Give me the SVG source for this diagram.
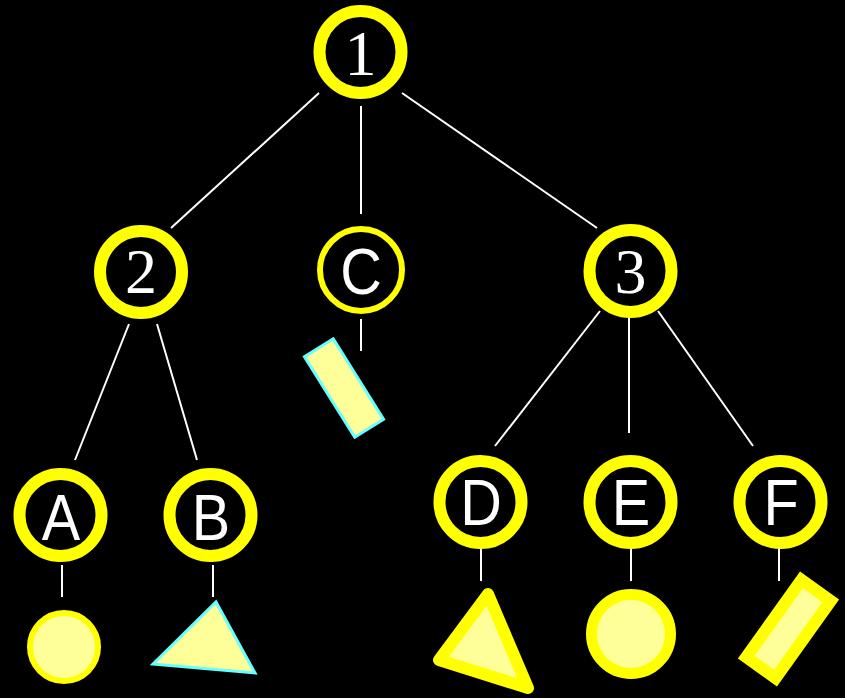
<svg xmlns="http://www.w3.org/2000/svg" width="845" height="698" viewBox="0 0 845 698">
<style>
.bg{fill:#000000}
.ring{fill:#000000;stroke:#FFFF00;stroke-width:12}
.thin{fill:#000000;stroke:#FFFF00;stroke-width:6}
.num{font-family:"Liberation Serif","Times New Roman",serif;font-size:64px;fill:#FFFFFF;text-anchor:middle}
.let{font-family:"Liberation Sans",Arial,sans-serif;font-size:64px;fill:#FFFFFF;text-anchor:middle}
.edge{stroke:#FFFFFF;stroke-width:2;fill:none}
.leafy{fill:#FFFF99;stroke:#FFFF00}
.leafc{fill:#FFFF99;stroke:#66FFFF;stroke-width:3}
</style>
<rect class="bg" x="0" y="0" width="845" height="698"/>
<g id="connectors">
<line class="edge" x1="319" y1="93" x2="171" y2="228"/>
<line class="edge" x1="361" y1="106" x2="361" y2="214"/>
<line class="edge" x1="402" y1="93" x2="597" y2="228"/>
<line class="edge" x1="129" y1="324" x2="75" y2="460"/>
<line class="edge" x1="157" y1="324" x2="197" y2="460"/>
<line class="edge" x1="600" y1="311" x2="495" y2="446"/>
<line class="edge" x1="629" y1="316" x2="629" y2="433"/>
<line class="edge" x1="658" y1="311" x2="753" y2="446"/>
<line class="edge" x1="62" y1="565" x2="62" y2="597"/>
<line class="edge" x1="213" y1="565" x2="213" y2="597"/>
<line class="edge" x1="361" y1="319" x2="361" y2="351"/>
<line class="edge" x1="481" y1="548" x2="481" y2="581"/>
<line class="edge" x1="631" y1="548" x2="631" y2="581"/>
<line class="edge" x1="779" y1="548" x2="779" y2="581"/>
</g>
<g id="n1"><circle class="ring" cx="360.5" cy="52" r="41"/><text class="num" x="360.5" y="75">1</text></g>
<g id="n2"><circle class="ring" cx="141" cy="272" r="41"/><text class="num" x="141" y="293">2</text></g>
<g id="nC"><circle class="thin" cx="361" cy="270" r="41"/><text class="let" transform="translate(361,294) scale(0.9,1)">C</text></g>
<g id="n3"><circle class="ring" cx="630.5" cy="271" r="41"/><text class="num" x="630.5" y="293">3</text></g>
<g id="nA"><circle class="ring" cx="60.5" cy="515" r="41"/><text class="let" transform="translate(61,540) scale(0.9,1)">A</text></g>
<g id="nB"><circle class="ring" cx="210.5" cy="515" r="41"/><text class="let" transform="translate(211,540) scale(0.9,1)">B</text></g>
<g id="nD"><circle class="ring" cx="480.5" cy="502" r="41"/><text class="let" transform="translate(481,525) scale(0.9,1)">D</text></g>
<g id="nE"><circle class="ring" cx="630.5" cy="502" r="41"/><text class="let" transform="translate(631,525) scale(0.9,1)">E</text></g>
<g id="nF"><circle class="ring" cx="780.5" cy="502" r="41"/><text class="let" transform="translate(781,525) scale(0.9,1)">F</text></g>
<g id="leafA"><circle class="leafy" stroke-width="6" cx="64" cy="647" r="34"/></g>
<g id="leafB"><polygon class="leafc" points="153,664 216,602 255,673"/></g>
<g id="leafC"><rect class="leafc" x="-17" y="-47.5" width="34" height="95" transform="translate(344,388) rotate(-32)"/></g>
<g id="leafD"><polygon class="leafy" stroke-width="12" stroke-linejoin="round" points="488,594 439,660 528,688"/></g>
<g id="leafE"><circle class="leafy" stroke-width="11" cx="631" cy="634" r="39.5"/></g>
<g id="leafF"><rect class="leafy" stroke-width="12" x="-18" y="-47.5" width="36" height="95" transform="translate(788.5,629) rotate(35.5)"/></g>
</svg>
